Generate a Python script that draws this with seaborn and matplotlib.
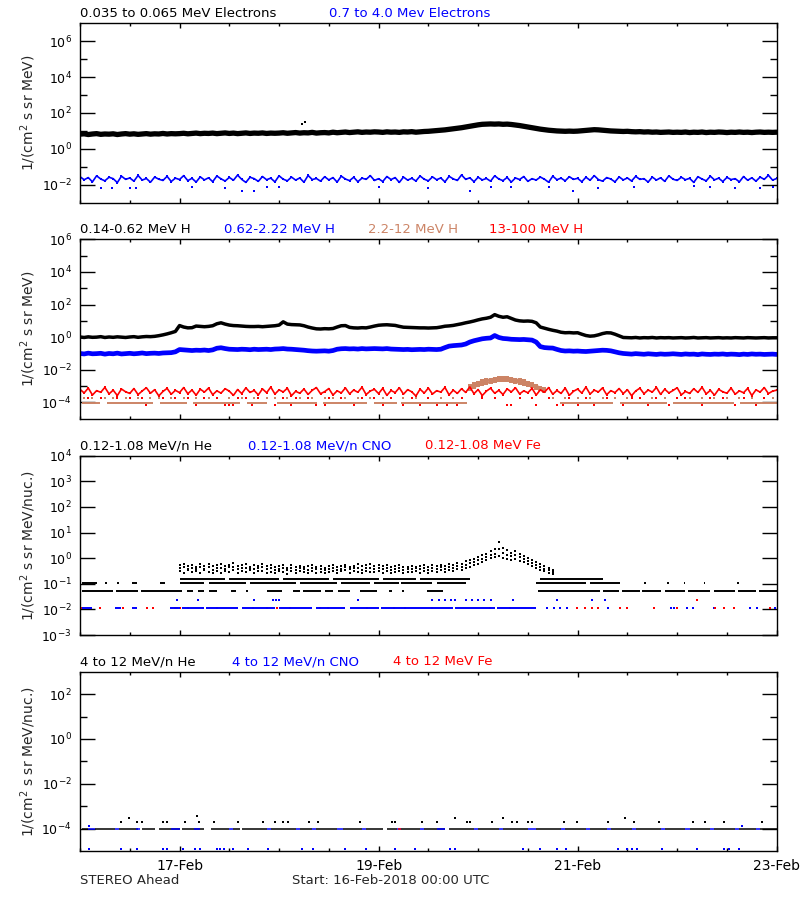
import matplotlib
matplotlib.use("Agg")
import matplotlib.pyplot as plt
import matplotlib.dates as mdates
import matplotlib.ticker as mticker
import seaborn as sns
import numpy as np
import pandas as pd

start = pd.Timestamp("2018-02-16 00:00")
end = pd.Timestamp("2018-02-23 00:00")
hours = np.arange(169)  # hourly samples, 16-Feb 00:00 .. 23-Feb 00:00

BLUE = "#0000ff"
RED = "#ff0000"
TAN = "#cc8466"

# ---------------- panel 1 : electrons (log10 flux, hourly) ----------------
e_low = [0.82, 0.84, 0.80, 0.83, 0.85, 0.81, 0.83, 0.82, 0.84, 0.80, 0.83, 0.85,
         0.82, 0.84, 0.81, 0.83, 0.85, 0.82, 0.84, 0.83, 0.86, 0.83, 0.85, 0.84,
         0.85, 0.87, 0.84, 0.86, 0.88, 0.85, 0.87, 0.86, 0.88, 0.85, 0.87, 0.89,
         0.86, 0.88, 0.85, 0.87, 0.89, 0.86, 0.88, 0.87, 0.89, 0.86, 0.88, 0.87,
         0.88, 0.90, 0.87, 0.89, 0.91, 0.88, 0.90, 0.89, 0.92, 0.88, 0.90, 0.91,
         0.89, 0.93, 0.90, 0.92, 0.94, 0.91, 0.93, 0.95, 0.92, 0.94, 0.93, 0.95,
         0.94, 0.92, 0.95, 0.93, 0.94, 0.92, 0.95, 0.94, 0.96, 0.93, 0.95, 0.97,
         0.98, 1.00, 1.02, 1.04, 1.06, 1.09, 1.12, 1.15, 1.18, 1.22, 1.26, 1.30,
         1.34, 1.37, 1.38, 1.39, 1.38, 1.39, 1.37, 1.38, 1.36, 1.33, 1.30, 1.26,
         1.22, 1.18, 1.14, 1.10, 1.07, 1.04, 1.02, 1.00, 0.99, 0.98, 0.99, 0.98,
         0.99, 1.01, 1.03, 1.05, 1.07, 1.06, 1.04, 1.02, 1.00, 0.99, 0.98, 0.97,
         0.98, 0.96, 0.95, 0.96, 0.94, 0.95, 0.93, 0.94, 0.92, 0.93, 0.94, 0.92,
         0.93, 0.92, 0.94, 0.91, 0.93, 0.92, 0.94, 0.91, 0.93, 0.92, 0.94, 0.93,
         0.91, 0.93, 0.92, 0.94, 0.92, 0.93, 0.91, 0.93, 0.94, 0.92, 0.93, 0.92,
         0.93]
e_low_spikes_h = [53.5, 54.3]
e_low_spikes = [1.38, 1.51]

e_high = [-1.55, -1.72, -1.60, -1.84, -1.50, -1.68, -1.78, -1.58, -1.66, -1.88, -1.52, -1.70,
          -1.62, -1.80, -1.48, -1.74, -1.65, -1.86, -1.57, -1.69, -1.76, -1.53, -1.82, -1.63,
          -1.71, -1.49, -1.77, -1.64, -1.85, -1.56, -1.73, -1.61, -1.83, -1.51, -1.67, -1.79,
          -1.59, -1.75, -1.46, -1.70, -1.87, -1.58, -1.66, -1.81, -1.54, -1.72, -1.63, -1.84,
          -1.50, -1.69, -1.78, -1.57, -1.74, -1.62, -1.86, -1.48, -1.71, -1.65, -1.80, -1.55,
          -1.73, -1.60, -1.85, -1.52, -1.68, -1.77, -1.58, -1.83, -1.63, -1.70, -1.49, -1.76,
          -1.66, -1.82, -1.54, -1.71, -1.60, -1.87, -1.57, -1.74, -1.64, -1.79, -1.51, -1.69,
          -1.78, -1.56, -1.72, -1.62, -1.84, -1.53, -1.67, -1.76, -1.45, -1.70, -1.61, -1.83,
          -1.58, -1.73, -1.65, -1.80, -1.50, -1.68, -1.77, -1.59, -1.85, -1.62, -1.71, -1.54,
          -1.81, -1.66, -1.74, -1.57, -1.69, -1.86, -1.52, -1.72, -1.63, -1.78, -1.55, -1.70,
          -1.64, -1.83, -1.58, -1.75, -1.49, -1.71, -1.80, -1.60, -1.68, -1.84, -1.56, -1.73,
          -1.62, -1.79, -1.53, -1.70, -1.66, -1.85, -1.57, -1.74, -1.61, -1.81, -1.50, -1.69,
          -1.76, -1.58, -1.72, -1.64, -1.87, -1.55, -1.68, -1.78, -1.52, -1.73, -1.63, -1.82,
          -1.59, -1.71, -1.66, -1.84, -1.54, -1.75, -1.61, -1.80, -1.57, -1.70, -1.47, -1.74,
          -1.65]
e_high_drop_h = [5, 7.7, 12, 13.5, 27, 35, 39, 42, 45, 48, 72, 84, 94, 99, 104, 113,
                 119, 125, 133.5, 148, 152, 158, 164, 167]
e_high_drop = [-2.16, -2.2, -2.2, -2.2, -2.1, -2.2, -2.35, -2.35, -2.15, -2.1, -2.1, -2.2,
               -2.35, -2.15, -2.1, -2.1, -2.35, -2.2, -2.1, -2.05, -2.15, -2.2, -2.2, -2.1]

# ---------------- panel 2 : protons ----------------
h_low = [0.01, -0.02, 0.02, -0.01, 0.00, 0.03, -0.02, 0.01, -0.01, 0.02, 0.00, -0.02,
         0.01, 0.03, -0.01, 0.02, 0.04, 0.03, 0.05, 0.09, 0.14, 0.20, 0.27, 0.35,
         0.71, 0.62, 0.57, 0.58, 0.68, 0.66, 0.64, 0.66, 0.70, 0.82, 0.88, 0.80,
         0.74, 0.71, 0.70, 0.68, 0.66, 0.65, 0.65, 0.66, 0.64, 0.66, 0.68, 0.70,
         0.74, 0.94, 0.80, 0.77, 0.76, 0.75, 0.70, 0.62, 0.56, 0.51, 0.50, 0.52,
         0.51, 0.53, 0.62, 0.70, 0.71, 0.60, 0.57, 0.56, 0.58, 0.57, 0.62, 0.68,
         0.73, 0.75, 0.76, 0.74, 0.72, 0.66, 0.61, 0.60, 0.59, 0.58, 0.57, 0.57,
         0.56, 0.57, 0.58, 0.62, 0.67, 0.69, 0.72, 0.77, 0.82, 0.88, 0.93, 0.99,
         1.06, 1.12, 1.16, 1.22, 1.38, 1.28, 1.22, 1.25, 1.15, 1.05, 1.00, 0.98,
         0.99, 0.97, 0.88, 0.62, 0.55, 0.48, 0.42, 0.37, 0.30, 0.27, 0.28, 0.26,
         0.27, 0.18, 0.10, 0.06, 0.08, 0.14, 0.22, 0.27, 0.26, 0.18, 0.08, -0.02,
         -0.03, -0.04, -0.02, -0.05, -0.03, -0.04, -0.02, -0.05, -0.03, -0.04, -0.03, -0.05,
         -0.04, -0.03, -0.05, -0.04, -0.02, -0.05, -0.04, -0.03, -0.05, -0.04, -0.03, -0.05,
         -0.04, -0.05, -0.03, -0.04, -0.05, -0.03, -0.04, -0.05, -0.04, -0.03, -0.05, -0.04,
         -0.04]

h_mid = [-1.00, -1.03, -0.98, -1.02, -1.01, -0.99, -1.04, -1.00, -1.02, -0.98, -1.03, -1.01,
         -0.99, -1.02, -1.00, -0.97, -1.01, -0.99, -0.98, -1.00, -0.97, -0.96, -0.95, -0.90,
         -0.76, -0.78, -0.80, -0.82, -0.80, -0.81, -0.79, -0.82, -0.78, -0.68, -0.65, -0.70,
         -0.74, -0.75, -0.76, -0.74, -0.75, -0.77, -0.74, -0.76, -0.75, -0.74, -0.76, -0.73,
         -0.72, -0.70, -0.73, -0.74, -0.76, -0.78, -0.80, -0.83, -0.85, -0.86, -0.85, -0.84,
         -0.86, -0.82, -0.74, -0.71, -0.70, -0.72, -0.71, -0.73, -0.70, -0.72, -0.71, -0.70,
         -0.71, -0.72, -0.70, -0.73, -0.74, -0.75, -0.76, -0.75, -0.77, -0.76, -0.75, -0.76,
         -0.74, -0.75, -0.76, -0.74, -0.64, -0.55, -0.52, -0.50, -0.48, -0.42, -0.30, -0.22,
         -0.16, -0.10, -0.07, -0.05, 0.10, -0.02, -0.08, -0.10, -0.13, -0.14, -0.15, -0.14,
         -0.16, -0.18, -0.30, -0.58, -0.64, -0.66, -0.67, -0.75, -0.82, -0.85, -0.84, -0.86,
         -0.85, -0.87, -0.88, -0.86, -0.84, -0.82, -0.80, -0.81, -0.84, -0.90, -0.96, -1.00,
         -1.02, -1.04, -1.01, -1.03, -1.05, -1.02, -1.04, -1.06, -1.03, -1.05, -1.04, -1.02,
         -1.04, -1.06, -1.03, -1.05, -1.04, -1.07, -1.03, -1.05, -1.06, -1.04, -1.05, -1.03,
         -1.06, -1.04, -1.05, -1.07, -1.04, -1.06, -1.03, -1.05, -1.04, -1.06, -1.05, -1.04,
         -1.06]

h_top = [-3.20, -3.42, -3.12, -3.55, -3.28, -3.38, -3.08, -3.48, -3.25, -3.58, -3.18, -3.35,
         -3.45, -3.15, -3.52, -3.30, -3.10, -3.44, -3.22, -3.60, -3.33, -3.14, -3.50, -3.26,
         -3.40, -3.09, -3.47, -3.24, -3.56, -3.19, -3.37, -3.12, -3.53, -3.29, -3.43, -3.16,
         -3.31, -3.57, -3.21, -3.46, -3.11, -3.39, -3.27, -3.54, -3.17, -3.41, -3.06, -3.49,
         -3.23, -3.36, -3.13, -3.59, -3.32, -3.44, -3.18, -3.51, -3.26, -3.09, -3.47, -3.34,
         -3.15, -3.55, -3.29, -3.42, -3.11, -3.48, -3.24, -3.38, -3.07, -3.52, -3.30, -3.20,
         -3.46, -3.14, -3.57, -3.27, -3.40, -3.10, -3.50, -3.22, -3.35, -3.61, -3.19, -3.43,
         -3.12, -3.49, -3.28, -3.37, -3.08, -3.54, -3.25, -3.45, -3.16, -3.39, -3.05, -3.47,
         -3.21, -3.58, -3.31, -3.13, -3.44, -3.26, -3.52, -3.17, -3.36, -3.10, -3.48, -3.29,
         -3.41, -3.14, -3.55, -3.23, -3.38, -3.09, -3.50, -3.27, -3.45, -3.12, -3.57, -3.32,
         -3.18, -3.43, -3.06, -3.49, -3.25, -3.36, -3.11, -3.53, -3.28, -3.40, -3.15, -3.46,
         -3.22, -3.59, -3.30, -3.13, -3.47, -3.24, -3.37, -3.08, -3.51, -3.19, -3.42, -3.27,
         -3.10, -3.54, -3.33, -3.45, -3.16, -3.39, -3.07, -3.48, -3.26, -3.56, -3.20, -3.35,
         -3.44, -3.12, -3.50, -3.29, -3.41, -3.14, -3.58, -3.23, -3.37, -3.09, -3.46, -3.31,
         -3.25]
h_top_mid_h = [2, 5, 9, 12, 15, 20, 23, 26, 30, 33, 38, 40, 43, 49, 52, 55, 60, 63, 68, 71,
               75, 80, 84, 92, 97, 100, 106, 109, 113, 118, 122, 127, 133, 135, 139, 144,
               146, 152, 155, 160, 165]
h_top_low_h = [16, 28, 35, 36, 37, 41.5, 47, 51, 57, 59, 66, 73, 78, 82, 86, 88.5, 91, 103,
               104, 110, 115, 116.5, 120, 124, 131, 137, 142, 150, 158, 163]

# 2.2-12 MeV H : flat background dashes plus the bump near 20-Feb
h_hi_base_segs = [(0.4, 4.8), (6.4, 17.7), (19.3, 25.7), (27.3, 38.6), (40.2, 45.0),
                  (47.4, 57.1), (58.7, 69.2), (70.8, 76.4), (77.5, 93.3), (115.8, 128.6),
                  (130.3, 141.5), (143.1, 157.6), (159.2, 168.0)]
h_hi_dot_h = [1, 3, 6, 8, 11, 14, 17, 19, 22, 25, 28, 31, 33, 36, 39, 42, 45, 47, 50, 53,
              56, 59, 61, 64, 67, 70, 73, 75, 78, 81, 84, 87, 90, 114, 117, 120, 123, 126,
              129, 132, 135, 138, 141, 144, 147, 150, 153, 156, 159, 162, 165, 167]
bump_h = [94, 95, 96, 97, 98, 99, 100, 101, 102, 103, 104, 105, 106, 107, 108, 109, 110, 111, 112]
bump_hi = [-3.00, -2.90, -2.80, -2.70, -2.65, -2.60, -2.55, -2.50, -2.48, -2.52, -2.55,
           -2.60, -2.65, -2.70, -2.80, -2.90, -3.00, -3.10, -3.20]
bump_lo = [-3.15, -3.05, -2.95, -2.85, -2.80, -2.75, -2.70, -2.62, -2.60, -2.65, -2.70,
           -2.72, -2.80, -2.85, -2.95, -3.00, -3.10, -3.20, -3.30]

# ---------------- panel 3 : 0.12-1.08 MeV/n ions ----------------
he_lvl = {  # quantised count levels (log10 flux) -> (start h, end h) segments
    -1.29: [(0.4, 8.0), (8.8, 14.0), (14.8, 24.5), (25.7, 27.3), (28.5, 30.0), (31.0, 33.0),
            (36.5, 37.5), (40.0, 40.5), (45.0, 48.6), (51.4, 53.0), (53.8, 58.0), (59.0, 61.0),
            (62.2, 65.0), (67.5, 71.6), (74.5, 75.2), (77.6, 78.2), (83.6, 87.6),
            (110.5, 125.4), (126.0, 130.0), (130.8, 135.0), (135.6, 140.0), (141.0, 146.0),
            (146.6, 152.0), (153.0, 158.0), (158.7, 163.0), (163.8, 168.0)],
    -0.97: [(0.4, 4.0), (6.0, 6.5), (9.0, 9.5), (12.6, 13.7), (19.3, 20.5), (24.0, 30.0),
            (31.0, 40.0), (41.0, 52.0), (53.0, 62.0), (63.0, 70.0), (71.0, 77.0),
            (77.5, 85.0), (86.0, 93.0), (110.0, 122.0), (123.0, 130.3), (136.0, 136.4),
            (141.6, 142.0), (145.6, 146.0), (150.4, 150.8), (158.4, 158.8)],
    -0.80: [(24.0, 35.0), (36.0, 48.0), (49.0, 60.0), (61.0, 72.0), (73.0, 81.0),
            (82.0, 94.0), (111.0, 126.0)],
}
he_h = list(range(24, 115))
he_hi = [-0.28, -0.22, -0.30, -0.25, -0.33, -0.24, -0.29, -0.21, -0.31, -0.26, -0.23, -0.32,
         -0.27, -0.20, -0.30, -0.25, -0.22, -0.34, -0.26, -0.29, -0.23, -0.31, -0.27, -0.35,
         -0.30, -0.26, -0.38, -0.28, -0.33, -0.29, -0.36, -0.31, -0.27, -0.34, -0.30, -0.37,
         -0.32, -0.28, -0.35, -0.30, -0.26, -0.33, -0.29, -0.24, -0.31, -0.27, -0.22, -0.30,
         -0.26, -0.32, -0.28, -0.35, -0.30, -0.25, -0.33, -0.36, -0.31, -0.34, -0.30, -0.28,
         -0.33, -0.27, -0.31, -0.25, -0.29, -0.22, -0.26, -0.18, -0.21, -0.12, -0.08, -0.02,
         0.05, 0.12, 0.18, 0.26, 0.35, 0.62, 0.38, 0.30, 0.22, 0.26, 0.18, 0.10,
         0.02, -0.06, -0.14, -0.22, -0.30, -0.38, -0.45]
he_md = [-0.40, -0.35, -0.42, -0.38, -0.44, -0.36, -0.41, -0.33, -0.45, -0.37, -0.39, -0.43,
         -0.36, -0.34, -0.44, -0.39, -0.37, -0.41, -0.43, -0.38, -0.35, -0.42, -0.40, -0.46,
         -0.41, -0.37, -0.48, -0.40, -0.45, -0.38, -0.43, -0.46, -0.39, -0.44, -0.42, -0.47,
         -0.43, -0.39, -0.46, -0.41, -0.36, -0.44, -0.40, -0.38, -0.45, -0.39, -0.37, -0.42,
         -0.37, -0.44, -0.40, -0.47, -0.42, -0.38, -0.45, -0.44, -0.43, -0.40, -0.44, -0.39,
         -0.45, -0.38, -0.42, -0.36, -0.41, -0.34, -0.37, -0.30, -0.33, -0.25, -0.20, -0.15,
         -0.08, -0.02, 0.05, 0.12, 0.18, 0.35, 0.20, 0.13, 0.07, 0.12, 0.04, -0.03,
         -0.10, -0.18, -0.26, -0.33, -0.41, -0.48, -0.54]
he_lo = [-0.52, -0.58, -0.48, -0.55, -0.50, -0.57, -0.46, -0.53, -0.59, -0.49, -0.56, -0.51,
         -0.54, -0.47, -0.58, -0.50, -0.55, -0.48, -0.57, -0.52, -0.49, -0.56, -0.53, -0.58,
         -0.50, -0.55, -0.60, -0.52, -0.57, -0.49, -0.54, -0.59, -0.51, -0.56, -0.53, -0.58,
         -0.55, -0.50, -0.57, -0.52, -0.48, -0.56, -0.51, -0.54, -0.58, -0.50, -0.53, -0.55,
         -0.49, -0.56, -0.52, -0.58, -0.54, -0.50, -0.57, -0.53, -0.55, -0.51, -0.56, -0.52,
         -0.57, -0.50, -0.54, -0.48, -0.55, -0.47, -0.50, -0.44, -0.46, -0.38, -0.33, -0.28,
         -0.22, -0.15, -0.08, 0.00, 0.05, 0.10, 0.02, -0.04, -0.08, -0.02, -0.10, -0.16,
         -0.22, -0.30, -0.38, -0.45, -0.52, -0.58, -0.62]

cno_segs = [(0.4, 3.0), (8.5, 10.0), (12.6, 13.7), (21.7, 24.0), (24.5, 30.0), (30.5, 38.0),
            (39.0, 47.0), (48.0, 56.0), (57.0, 64.0), (65.0, 72.0), (72.5, 77.0), (77.0, 90.0),
            (90.5, 100.0), (100.5, 110.0)]
cno_dot_h = [112.6, 114.2, 115.8, 117.4, 127.4, 142.5, 143.2, 143.9, 146.3, 147.9, 152.8,
             161.6, 163.2, 167.6]
cno_up_h = [23.5, 28.5, 42, 46.5, 47.2, 48, 67, 85, 86.5, 88, 89.5, 90.5, 93, 94.5, 96,
            97.5, 99, 104.5, 115, 123.5, 126.5]
fe_dot_h = [0.4, 4.8, 10.4, 16.1, 17.7, 22.9, 23.5, 24.1, 26.1, 29.7, 33, 41.8, 45, 47.4,
            50.7, 57.9, 59.9, 69.2, 75.6, 78.4, 84.8, 98.9, 103.7, 119.8, 121.8, 123.4, 125,
            130.3, 131.9, 138.3, 143.9, 153.2, 155.2, 157.6, 166.4]
fe_up_h = [148.8]

# ---------------- panel 4 : 4-12 MeV/n ions ----------------
he4_segs = [(0.5, 2.0), (3.5, 8.5), (9.5, 14.0), (15.0, 18.0), (19.0, 24.0), (24.5, 30.0),
            (31.5, 36.0), (37.0, 38.5), (39.0, 45.0), (46.0, 52.0), (53.0, 56.0), (57.0, 62.0),
            (63.5, 68.0), (69.0, 73.0), (74.0, 76.5), (77.5, 82.0), (83.0, 88.0), (89.0, 95.0),
            (96.0, 101.0), (102.0, 108.0), (110.0, 116.0), (117.0, 122.0), (123.0, 127.0),
            (128.0, 133.0), (134.0, 140.0), (141.0, 146.0), (147.0, 152.0), (153.0, 158.0),
            (159.0, 163.0), (164.0, 168.0)]
cno4_segs = [(2.0, 3.5), (8.5, 9.5), (13.5, 14.5), (22.0, 24.0), (27.5, 29.0), (36.0, 37.0),
             (45.0, 46.0), (52.0, 53.0), (56.0, 57.0), (62.0, 63.5), (68.0, 69.0), (76.5, 77.5),
             (82.0, 83.0), (86.0, 88.0), (95.0, 96.0), (101.0, 102.0), (108.0, 110.0),
             (116.0, 117.0), (122.0, 123.0), (127.0, 128.0), (133.0, 134.0), (140.0, 141.0),
             (146.0, 147.0), (152.0, 153.0), (158.0, 159.0), (163.0, 164.0)]
fe4_segs = [(76.6, 77.4)]
he4_dot_h = [9.8, 11.9, 13.7, 14.9, 20.1, 20.9, 25.3, 28.1, 28.8, 32.4, 38, 44.2, 47, 49, 50.2,
             55.1, 57.5, 67.5, 75.2, 76, 82.4, 86, 90.5, 93.3, 94.1, 99.3, 102.1, 104.1, 105.3,
             108.1, 108.9, 116.6, 119.8, 127.4, 131.5, 133.5, 139.5, 147.9, 150.8, 155.2, 164.4]
he4_dot = [-3.72, -3.54, -3.72, -3.72, -3.72, -3.72, -3.72, -3.43, -3.72, -3.72, -3.72, -3.72,
           -3.72, -3.72, -3.72, -3.72, -3.72, -3.72, -3.72, -3.72, -3.72, -3.72, -3.54, -3.72,
           -3.72, -3.72, -3.54, -3.72, -3.72, -3.72, -3.72, -3.72, -3.72, -3.72, -3.54, -3.72,
           -3.72, -3.72, -3.72, -3.72, -3.72]
cno4_low_h = [2.2, 9.8, 13.7, 20.1, 20.9, 24.8, 27.7, 28.9, 33, 33.8, 34.7, 37, 40.6, 45.4,
              53.5, 56.3, 63.9, 68.9, 76, 80.8, 89.2, 90.5, 106.9, 111, 115, 117.2, 129.8,
              131.9, 133.1, 134.3, 140.3, 148.8, 155.2, 156.4, 158.8]
cno4_up_h = [2.2, 159.6]

panel_titles = [
    [("0.035 to 0.065 MeV Electrons", "black", 80), ("0.7 to 4.0 Mev Electrons", BLUE, 329)],
    [("0.14-0.62 MeV H", "black", 80), ("0.62-2.22 MeV H", BLUE, 224),
     ("2.2-12 MeV H", TAN, 368), ("13-100 MeV H", RED, 489)],
    [("0.12-1.08 MeV/n He", "black", 80), ("0.12-1.08 MeV/n CNO", BLUE, 248),
     ("0.12-1.08 MeV Fe", RED, 425)],
    [("4 to 12 MeV/n He", "black", 80), ("4 to 12 MeV/n CNO", BLUE, 232),
     ("4 to 12 MeV Fe", RED, 393)],
]
y_labels = ["1/(cm$^2$ s sr MeV)", "1/(cm$^2$ s sr MeV)",
            "1/(cm$^2$ s sr MeV/nuc.)", "1/(cm$^2$ s sr MeV/nuc.)"]
y_ranges = [(-3, 7), (-5, 6), (-3, 4), (-5, 3)]
y_major = [[-2, 0, 2, 4, 6], [-4, -2, 0, 2, 4, 6], [-3, -2, -1, 0, 1, 2, 3, 4], [-4, -2, 0, 2]]
y_minor = [[-1, 1, 3, 5], [-3, -1, 1, 3, 5], [], [-3, -1, 1]]

# axes boxes in pixels: (top, bottom)
panel_px = [(23.3, 202.7), (239.3, 418.7), (455.7, 635.0), (671.7, 851.0)]
left_px, right_px = 80.0, 776.7
W, H = 800.0, 900.0


def to_time(h):
    return start + pd.to_timedelta(np.asarray(h, dtype=float), unit="h")


def tnum(h):
    return mdates.date2num(to_time(h).to_pydatetime())


def band(ax, vals, color, lw, h=hours):
    df = pd.DataFrame({"time": to_time(h), "flux": np.power(10.0, vals)})
    sns.lineplot(data=df, x="time", y="flux", ax=ax, color=color, lw=lw,
                 estimator=None, legend=False)


def dots(ax, h, vals, color, s=3):
    vals = np.broadcast_to(np.asarray(vals, dtype=float), (len(h),))
    df = pd.DataFrame({"time": to_time(h), "flux": np.power(10.0, vals)})
    sns.scatterplot(data=df, x="time", y="flux", ax=ax, color=color, s=s, marker="s",
                    linewidth=0, legend=False)


def dashes(ax, segs, level, color, lw=1.5):
    s = [a for a, b in segs]
    e = [b for a, b in segs]
    ax.hlines([10.0 ** level] * len(segs), tnum(s), tnum(e), colors=color, lw=lw)


sns.set_style("ticks")
plt.rcParams["font.family"] = ["DejaVu Sans"]
fig = plt.figure(figsize=(8, 9), dpi=100)
axes = []
for top, bot in panel_px:
    ax = fig.add_axes([left_px / W, 1 - bot / H, (right_px - left_px) / W, (bot - top) / H])
    ax.set_yscale("log")
    axes.append(ax)

# panel 1
ax = axes[0]
band(ax, e_low, "black", 3.8)
dots(ax, e_low_spikes_h, e_low_spikes, "black", s=4)
band(ax, e_high, BLUE, 1.2)
dots(ax, hours, e_high, BLUE, s=4)
dots(ax, e_high_drop_h, e_high_drop, BLUE, s=3)

# panel 2
ax = axes[1]
band(ax, h_low, "black", 2.5)
band(ax, h_mid, BLUE, 3.4)
dashes(ax, h_hi_base_segs, -4.06, TAN, lw=1.4)
dots(ax, h_hi_dot_h, -3.72, TAN, s=3)
band(ax, bump_lo, TAN, 1.8, h=bump_h)
band(ax, bump_hi, TAN, 1.8, h=bump_h)
dots(ax, bump_h, bump_hi, TAN, s=5)
dots(ax, bump_h, bump_lo, TAN, s=5)
band(ax, h_top, RED, 1.2)
dots(ax, hours, h_top, RED, s=4)
dots(ax, h_top_mid_h, -3.75, RED, s=3)
dots(ax, h_top_low_h, -4.15, RED, s=3)

# panel 3
ax = axes[2]
for lvl, segs in he_lvl.items():
    dashes(ax, segs, lvl, "black", lw=1.4)
dots(ax, he_h, he_hi, "black", s=3)
dots(ax, he_h, he_md, "black", s=3)
dots(ax, he_h, he_lo, "black", s=3)
dashes(ax, cno_segs, -1.95, BLUE, lw=1.4)
dots(ax, cno_dot_h, -1.95, BLUE, s=3.5)
dots(ax, cno_up_h, -1.62, BLUE, s=3)
dots(ax, fe_dot_h, -1.95, RED, s=4)
dots(ax, fe_up_h, -1.62, RED, s=3)

# panel 4
ax = axes[3]
dashes(ax, he4_segs, -4.0, "black", lw=1.1)
dashes(ax, cno4_segs, -4.0, BLUE, lw=1.1)
dashes(ax, fe4_segs, -4.0, RED, lw=1.1)
dots(ax, he4_dot_h, he4_dot, "black", s=3)
dots(ax, cno4_low_h, -4.93, BLUE, s=3)
dots(ax, cno4_up_h, -3.9, BLUE, s=3)

for i, ax in enumerate(axes):
    lo, hi = y_ranges[i]
    ax.set_ylim(10.0 ** lo, 10.0 ** hi)
    ax.set_xlim(start, end)
    ax.yaxis.set_major_locator(mticker.FixedLocator([10.0 ** k for k in y_major[i]]))
    ax.yaxis.set_minor_locator(mticker.FixedLocator([10.0 ** k for k in y_minor[i]]))
    ax.yaxis.set_major_formatter(mticker.LogFormatterSciNotation())
    ax.yaxis.set_minor_formatter(mticker.NullFormatter())
    ax.xaxis.set_major_locator(mdates.DayLocator(bymonthday=[17, 19, 21, 23]))
    ax.xaxis.set_minor_locator(mdates.HourLocator(byhour=[0, 12]))
    ax.xaxis.set_major_formatter(mdates.DateFormatter("%d-%b"))
    ax.tick_params(axis="both", which="both", direction="in", top=True, right=True,
                   width=1.0, colors="black")
    ax.tick_params(axis="y", which="major", length=10.8, labelsize=9, pad=6)
    ax.tick_params(axis="y", which="minor", length=5.0)
    ax.tick_params(axis="x", which="major", length=3.8, labelsize=10, pad=6)
    ax.tick_params(axis="x", which="minor", length=2.2)
    if i < 3:
        ax.tick_params(axis="x", which="both", labelbottom=False)
    ax.set_xlabel("")
    ax.set_ylabel("")
    for sp in ax.spines.values():
        sp.set_visible(True)
        sp.set_linewidth(1.0)
        sp.set_color("black")

    top, bot = panel_px[i]
    for txt, col, xp in panel_titles[i]:
        fig.text(xp / W, 1 - (top - 10) / H, txt, color=col, fontsize=9.5,
                 ha="left", va="center")
    fig.text(28 / W, 1 - (top + bot) / 2 / H, y_labels[i], rotation=90, fontsize=10,
             ha="center", va="center")

fig.text(80 / W, 1 - 881 / H, "STEREO Ahead", fontsize=9.5, ha="left", va="center")
fig.text(292 / W, 1 - 881 / H, "Start: 16-Feb-2018 00:00 UTC", fontsize=9.5,
         ha="left", va="center")

fig.savefig("out.png", dpi=100, facecolor="white")
